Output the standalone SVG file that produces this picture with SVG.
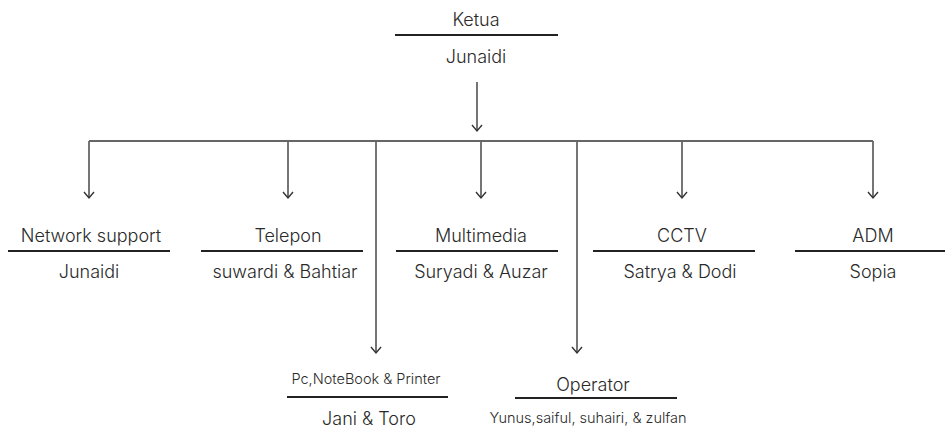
<svg xmlns="http://www.w3.org/2000/svg" width="945" height="432" viewBox="0 0 945 432">
<style>
.t{font-family:Inter,"Liberation Sans",sans-serif;font-size:18px;font-weight:300;fill:#2a2a2a;text-anchor:middle}
.s{font-size:14.5px}
.u{stroke:#222;stroke-width:1.8}
.c{stroke:#666;stroke-width:1.8;fill:none}
.h{fill:none;stroke:#333;stroke-width:1.4}
</style>
<rect width="945" height="432" fill="#fff"/>
<g id="connectors">
<path class="c" d="M477,82 V131"/><path class="h" d="M472,125 L477,131 L482,125"/>
<path class="c" d="M89,141 H873"/>
<path class="c" d="M89,141 V198"/><path class="h" d="M84,192 L89,198 L94,192"/>
<path class="c" d="M288,141 V198"/><path class="h" d="M283,192 L288,198 L293,192"/>
<path class="c" d="M376,141 V353"/><path class="h" d="M371,347 L376,353 L381,347"/>
<path class="c" d="M481,141 V198"/><path class="h" d="M476,192 L481,198 L486,192"/>
<path class="c" d="M577,141 V353"/><path class="h" d="M572,347 L577,353 L582,347"/>
<path class="c" d="M682,141 V198"/><path class="h" d="M677,192 L682,198 L687,192"/>
<path class="c" d="M873,141 V198"/><path class="h" d="M868,192 L873,198 L878,192"/>
</g>
<g id="ketua">
<text class="t" x="476" y="26">Ketua</text>
<line class="u" x1="395" y1="35" x2="558" y2="35"/>
<text class="t" x="476" y="63">Junaidi</text>
</g>
<g id="network">
<text class="t" x="91" y="242">Network support</text>
<line class="u" x1="8" y1="251" x2="170" y2="251"/>
<text class="t" x="89" y="278">Junaidi</text>
</g>
<g id="telepon">
<text class="t" x="288" y="242">Telepon</text>
<line class="u" x1="201" y1="251" x2="363" y2="251"/>
<text class="t" x="285" y="278">suwardi &amp; Bahtiar</text>
</g>
<g id="multimedia">
<text class="t" x="481" y="242">Multimedia</text>
<line class="u" x1="396" y1="251" x2="558" y2="251"/>
<text class="t" x="481" y="278">Suryadi &amp; Auzar</text>
</g>
<g id="cctv">
<text class="t" x="682" y="242">CCTV</text>
<line class="u" x1="593" y1="251" x2="755" y2="251"/>
<text class="t" x="680" y="278">Satrya &amp; Dodi</text>
</g>
<g id="adm">
<text class="t" x="873" y="242">ADM</text>
<line class="u" x1="795" y1="251" x2="945" y2="251"/>
<text class="t" x="873" y="278">Sopia</text>
</g>
<g id="pc">
<text class="t s" x="366" y="384">Pc,NoteBook &amp; Printer</text>
<line class="u" x1="287" y1="397" x2="448" y2="397"/>
<text class="t" x="369" y="425">Jani &amp; Toro</text>
</g>
<g id="operator">
<text class="t" x="593" y="391">Operator</text>
<line class="u" x1="515" y1="398" x2="677" y2="398"/>
<text class="t s" x="588" y="423">Yunus,saiful, suhairi, &amp; zulfan</text>
</g>
</svg>
